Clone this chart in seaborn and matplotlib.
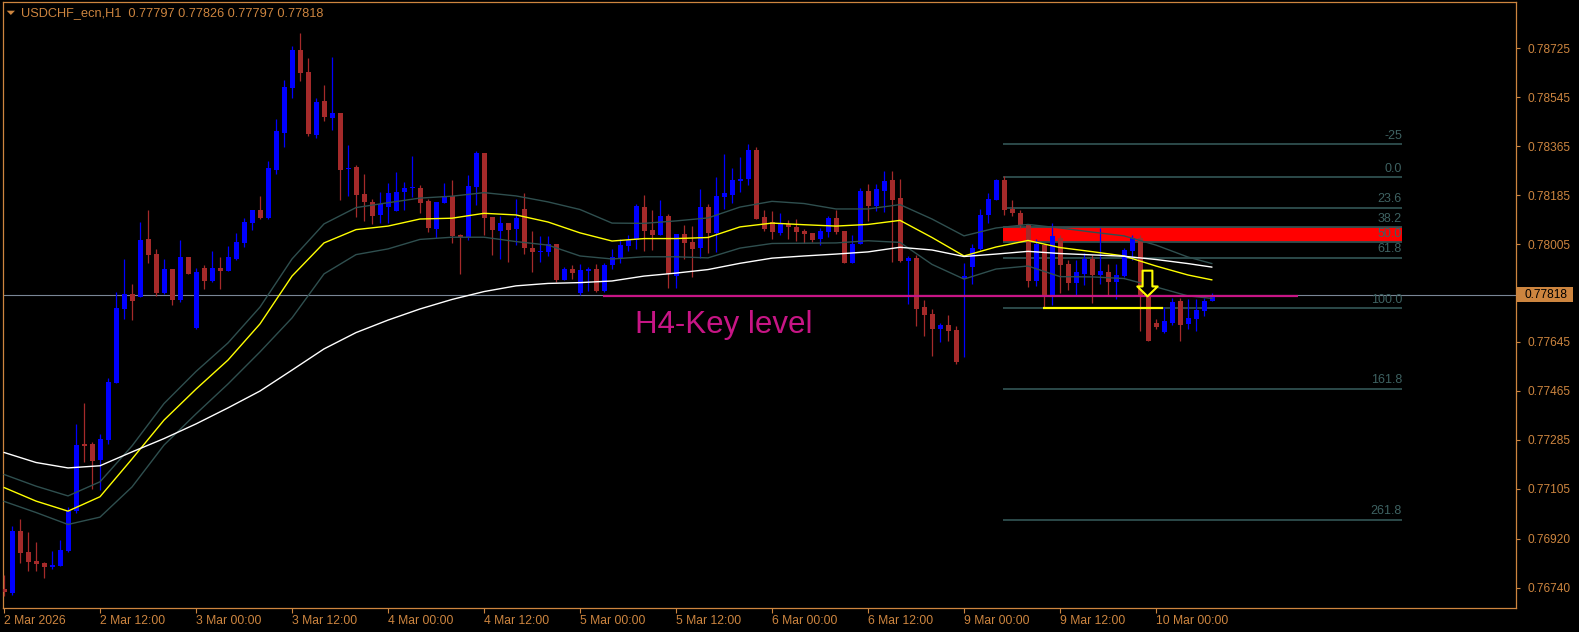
import numpy as np
import pandas as pd
import matplotlib
matplotlib.use("Agg")
import matplotlib.pyplot as plt
import matplotlib.transforms as mtransforms
from matplotlib.patches import Rectangle, Polygon
from matplotlib.path import Path
from matplotlib.markers import MarkerStyle
import seaborn as sns

# ---------------- data ----------------
symbol = "USDCHF_ecn,H1"
last_ohlc = [0.77797, 0.77826, 0.77797, 0.77818]
current_price = 0.77818

# H1 candles, prices in 1e-5 units (bar 0 = 2 Mar 00:00)
open_pts = [76735, 76721, 76949, 76872, 76839, 76831, 76816, 76820, 76875, 77022,
            77269, 77269, 77210, 77284, 77494, 77766, 77821, 77810, 78024, 77968,
            77825, 77913, 77799, 77957, 77696, 77917, 77869, 77917, 77906, 77950,
            78009, 78082, 78130, 78101, 78277, 78414, 78579, 78719, 78638, 78406,
            78531, 78469, 78487, 78281, 78288, 78189, 78160, 78112, 78141, 78126,
            78196, 78211, 78211, 78163, 78060, 78156, 78182, 78038, 78027, 78215,
            78340, 78104, 78053, 78082, 78060, 78134, 77990, 77976, 77976, 78005,
            77873, 77913, 77825, 77906, 77913, 77832, 77928, 77954, 77998, 78020,
            78141, 78057, 78038, 78108, 77887, 78042, 78012, 77990, 78141, 78046,
            78178, 78185, 78237, 78244, 78351, 78104, 78086, 78046, 78079, 78068,
            78053, 78046, 78024, 78049, 78101, 78053, 77935, 78005, 78200, 78145,
            78200, 78241, 78174, 77943, 77954, 77773, 77747, 77692, 77707, 77689,
            77876, 77920, 77987, 78112, 78167, 78241, 78134, 78119, 78075, 77869,
            78001, 77814, 78027, 77932, 77862, 77895, 77950, 77891, 77902, 77865,
            77887, 77979, 78027, 77814, 77714, 77681, 77714, 77795, 77711, 77729,
            77759, 77797]
high_pts = [76787, 76967, 76993, 76945, 76908, 76835, 76875, 76916, 77037, 77343,
            77420, 77276, 77306, 77512, 77828, 77950, 77858, 78086, 78130, 77987,
            77950, 77913, 78020, 77957, 77917, 77928, 77979, 77957, 77998, 78046,
            78101, 78130, 78182, 78310, 78465, 78609, 78734, 78782, 78690, 78542,
            78590, 78693, 78487, 78369, 78296, 78263, 78171, 78196, 78230, 78270,
            78233, 78329, 78222, 78171, 78160, 78230, 78241, 78042, 78259, 78347,
            78340, 78104, 78108, 78082, 78171, 78193, 78053, 78035, 78035, 78005,
            77920, 77928, 77932, 77920, 77932, 77935, 77987, 78024, 78038, 78152,
            78185, 78130, 78167, 78115, 78042, 78075, 78071, 78208, 78152, 78252,
            78336, 78285, 78325, 78373, 78362, 78130, 78126, 78119, 78093, 78097,
            78060, 78046, 78064, 78108, 78130, 78053, 78038, 78211, 78226, 78226,
            78274, 78274, 78244, 77961, 77965, 77799, 77766, 77714, 77744, 77703,
            77935, 78005, 78134, 78193, 78244, 78255, 78167, 78130, 78079, 78024,
            78005, 78082, 78038, 77946, 77946, 77972, 77965, 78064, 77932, 77932,
            77990, 78038, 78038, 77814, 77729, 77773, 77806, 77806, 77803, 77803,
            77806, 77826]
low_pts = [76710, 76713, 76831, 76802, 76802, 76776, 76809, 76820, 76872, 77015,
           77203, 77104, 77100, 77269, 77494, 77729, 77725, 77810, 77935, 77814,
           77821, 77781, 77792, 77895, 77692, 77840, 77865, 77840, 77906, 77946,
           77994, 78057, 78097, 78097, 78263, 78362, 78542, 78605, 78402, 78395,
           78458, 78425, 78167, 78182, 78104, 78090, 78079, 78082, 78082, 78126,
           78130, 78178, 78119, 78049, 78027, 78156, 78009, 77895, 78020, 78149,
           78038, 77965, 77950, 77939, 78001, 77968, 77902, 77939, 77961, 77865,
           77873, 77876, 77817, 77832, 77828, 77828, 77913, 77935, 77979, 77987,
           77979, 77983, 78038, 77843, 77843, 77950, 77884, 77954, 77972, 77976,
           78134, 78156, 78196, 78222, 78097, 78053, 78024, 78038, 78024, 78016,
           78009, 78012, 78001, 78031, 78042, 77935, 77935, 78005, 78090, 78126,
           78123, 77939, 77939, 77784, 77703, 77667, 77593, 77644, 77648, 77563,
           77589, 77858, 77983, 78082, 78167, 78112, 78108, 78060, 77847, 77851,
           77770, 77781, 77825, 77836, 77817, 77854, 77788, 77858, 77814, 77803,
           77884, 77946, 77685, 77648, 77692, 77678, 77707, 77648, 77692, 77685,
           77740, 77797]
close_pts = [76724, 76949, 76868, 76835, 76828, 76816, 76824, 76879, 77022, 77265,
             77262, 77206, 77287, 77497, 77770, 77821, 77795, 78020, 77965, 77825,
             77913, 77799, 77957, 77895, 77902, 77869, 77917, 77906, 77957, 78012,
             78086, 78130, 78101, 78285, 78421, 78583, 78719, 78634, 78410, 78528,
             78472, 78487, 78277, 78285, 78185, 78160, 78108, 78152, 78193, 78196,
             78211, 78215, 78156, 78064, 78160, 78182, 78035, 78031, 78219, 78340,
             78101, 78057, 78082, 78057, 78101, 77990, 77976, 77979, 78005, 77873,
             77913, 77898, 77909, 77913, 77832, 77928, 77957, 78001, 78020, 78145,
             78053, 78038, 78108, 77895, 78042, 78009, 77987, 78141, 78046, 78182,
             78193, 78241, 78244, 78351, 78097, 78060, 78049, 78082, 78068, 78049,
             78042, 78020, 78053, 78101, 78049, 77935, 78005, 78200, 78145, 78208,
             78237, 78167, 77943, 77954, 77766, 77744, 77692, 77707, 77685, 77571,
             77887, 77990, 78112, 78171, 78241, 78130, 78119, 78075, 77869, 78005,
             77814, 78035, 77928, 77862, 77902, 77950, 77891, 77906, 77865, 77891,
             77983, 78027, 77814, 77648, 77700, 77722, 77792, 77707, 77733, 77762,
             77795, 77818]

# moving averages / channel at these bars
ma_bars = [0, 4, 8, 12, 16, 20, 24, 28, 32, 36, 40, 44, 48, 52, 56, 60, 64, 68, 72, 76,
           80, 84, 88, 92, 96, 100, 104, 108, 112, 116, 120, 124, 128, 132, 136, 140,
           144, 148, 151]
ma_white_pts = [77238, 77201, 77181, 77189, 77240, 77289, 77343, 77402, 77464, 77541,
                77619, 77679, 77725, 77766, 77801, 77830, 77851, 77860, 77863, 77869,
                77887, 77898, 77911, 77934, 77953, 77961, 77968, 77976, 77993, 77983,
                77959, 77968, 77978, 77970, 77965, 77960, 77948, 77933, 77920]
ma_yellow_pts = [77109, 77059, 77022, 77075, 77214, 77357, 77471, 77578, 77711, 77887,
                 78009, 78058, 78071, 78097, 78100, 78118, 78112, 78086, 78046, 78016,
                 78025, 78025, 78029, 78068, 78082, 78076, 78071, 78077, 78092, 78029,
                 77961, 77994, 78018, 77992, 77977, 77961, 77924, 77891, 77873]
band_upper_pts = [77157, 77114, 77078, 77130, 77262, 77418, 77536, 77641, 77773, 77950,
                  78079, 78139, 78157, 78174, 78181, 78194, 78182, 78160, 78132, 78082,
                  78081, 78090, 78101, 78141, 78162, 78154, 78134, 78134, 78150, 78097,
                  78035, 78064, 78077, 78064, 78049, 78035, 78001, 77957, 77933]
band_lower_pts = [77058, 77017, 76973, 77000, 77111, 77265, 77380, 77490, 77608, 77733,
                  77895, 77966, 77987, 78022, 78030, 78030, 78014, 78001, 77961, 77950,
                  77958, 77958, 77954, 77990, 78007, 78008, 78009, 78017, 78011, 77930,
                  77876, 77913, 77924, 77885, 77884, 77878, 77847, 77814, 77805]

time_labels = ["2 Mar 2026", "2 Mar 12:00", "3 Mar 00:00", "3 Mar 12:00", "4 Mar 00:00",
               "4 Mar 12:00", "5 Mar 00:00", "5 Mar 12:00", "6 Mar 00:00", "6 Mar 12:00",
               "9 Mar 00:00", "9 Mar 12:00", "10 Mar 00:00"]
time_label_bars = [0, 12, 24, 36, 48, 60, 72, 84, 96, 108, 120, 132, 144]
price_ticks = [0.78725, 0.78545, 0.78365, 0.78185, 0.78005, 0.77645, 0.77465,
               0.77285, 0.77105, 0.76920, 0.76740]

# drawn objects
fib_high = 0.78253
fib_low = 0.77771
fib_levels = [-25, 0, 23.6, 38.2, 50, 61.8, 100, 161.8, 261.8]
fib_labels = ["-25", "0.0", "23.6", "38.2", "50.0", "61.8", "100.0", "161.8", "261.8"]
fib_start_bar, fib_end_bar = 124.9, 174.75
zone_top, zone_bottom = 0.78066, 0.78012
key_level = 0.77815
key_start_bar, key_end_bar = 74.9, 161.75
key_text = "H4-Key level"
key_text_bar, key_text_price = 78.9, 0.77679
low_line_start, low_line_end = 129.9, 144.9
arrow_bar, arrow_price = 142.9, 0.77860

# ---------------- prep ----------------
opens = np.array(open_pts) / 1e5
highs = np.array(high_pts) / 1e5
lows = np.array(low_pts) / 1e5
closes = np.array(close_pts) / 1e5
opens[-1], highs[-1], lows[-1], closes[-1] = last_ohlc
bars = np.arange(len(opens))

ma_df = pd.DataFrame({
    "bar": ma_bars,
    "white": np.array(ma_white_pts) / 1e5,
    "yellow": np.array(ma_yellow_pts) / 1e5,
    "upper": np.array(band_upper_pts) / 1e5,
    "lower": np.array(band_lower_pts) / 1e5,
})

# ---------------- style ----------------
sns.set_theme(style="dark", rc={"axes.facecolor": "black", "figure.facecolor": "black"})
plt.rcParams["font.family"] = ["Liberation Sans", "DejaVu Sans"]

ORANGE = "#CD853F"
BULL = "#0000FF"
BEAR = "#A52A2A"
SLATE = "#2F4F4F"
MAGENTA = "#C71585"

W, H = 1579, 632
fig = plt.figure(figsize=(W / 100, H / 100), dpi=100, facecolor="black")
ax_l, ax_r, ax_t, ax_b = 3, 1515.5, 2, 607.8
ax = fig.add_axes([ax_l / W, 1 - ax_b / H, (ax_r - ax_l) / W, (ax_b - ax_t) / H])
ax.set_facecolor("black")
ax.grid(False)

xmin = -0.125
xmax = xmin + (ax_r - ax_l) / 8.0
ax.set_xlim(xmin, xmax)
ax.set_ylim(0.766663, 0.788956)
px = (0.788956 - 0.766663) / (ax_b - ax_t)  # price per pixel

# current price line
ax.axhline(current_price, color="#7A8696", lw=0.8, zorder=1)

# zone rectangle
ax.add_patch(Rectangle((fib_start_bar, zone_bottom), fib_end_bar - fib_start_bar,
                       zone_top - zone_bottom, facecolor="#FF0000", edgecolor="none", zorder=1.5))

# fibonacci
rng = fib_high - fib_low
for lv, lab in zip(fib_levels, fib_labels):
    p = fib_high - lv / 100.0 * rng
    ax.plot([fib_start_bar, fib_end_bar], [p, p], color=SLATE, lw=1.3, zorder=2,
            solid_capstyle="butt")
    ax.annotate(lab, xy=(fib_end_bar, p), xytext=(0, 1.5), textcoords="offset points",
                ha="right", va="bottom", color="#3E6262", fontsize=9, zorder=2)

# candles
bull = closes >= opens
cols = np.where(bull, BULL, BEAR)
body_lo = np.minimum(opens, closes)
body_h = np.maximum(np.abs(closes - opens), px * 1.2)
ax.vlines(bars, lows, highs, colors=cols, lw=0.9, zorder=3)
ax.bar(bars, body_h, bottom=body_lo, width=0.625, color=cols, linewidth=0, zorder=3.1)

# moving averages
sns.lineplot(data=ma_df, x="bar", y="upper", ax=ax, color=SLATE, lw=1.0, zorder=4)
sns.lineplot(data=ma_df, x="bar", y="lower", ax=ax, color=SLATE, lw=1.0, zorder=4)
sns.lineplot(data=ma_df, x="bar", y="white", ax=ax, color="white", lw=1.0, zorder=4.2)
sns.lineplot(data=ma_df, x="bar", y="yellow", ax=ax, color="#FFFF00", lw=1.0, zorder=4.1)

# key level
ax.plot([key_start_bar, key_end_bar], [key_level, key_level], color=MAGENTA, lw=1.6,
        zorder=5, solid_capstyle="butt")
ax.text(key_text_bar, key_text_price, key_text, color=MAGENTA, fontsize=22.5,
        va="baseline", ha="left", zorder=5)

# yellow low line
ax.plot([low_line_start, low_line_end], [fib_low, fib_low], color="#FFFF00", lw=1.6,
        zorder=5, solid_capstyle="butt")

# down arrow marker
arrow_path = Path([(-0.19, 0.5), (0.19, 0.5), (0.19, -0.115), (0.396, -0.115),
                   (0.0, -0.5), (-0.396, -0.115), (-0.19, -0.115), (-0.19, 0.5)],
                  closed=True)
ax.plot([arrow_bar], [arrow_price], marker=MarkerStyle(arrow_path), markersize=18.5,
        markerfacecolor="black", markeredgecolor="#FFFF00", markeredgewidth=1.5,
        linestyle="none", zorder=6)

# axes styling
for s in ax.spines.values():
    s.set_color(ORANGE)
    s.set_linewidth(0.9)
    s.set_visible(True)

ax.set_xticks(time_label_bars)
ax.set_xticklabels(time_labels)
for t in ax.get_xticklabels():
    t.set_ha("left")
ax.tick_params(axis="x", bottom=True, length=3.5, width=0.8, colors=ORANGE, pad=2,
               labelsize=8.7, direction="out")
ax.yaxis.tick_right()
ax.set_yticks(price_ticks)
ax.set_yticklabels([f"{v:.5f}" for v in price_ticks])
ax.tick_params(axis="y", right=True, left=False, labelright=True, labelleft=False,
               length=3, width=0.8, colors=ORANGE, pad=6, labelsize=8.6, direction="out")
ax.set_xlabel("")
ax.set_ylabel("")

# current price label box
trans = mtransforms.blended_transform_factory(ax.transAxes, ax.transData)
axw = ax_r - ax_l
ax.add_patch(Rectangle((1.0 + 1.2 / axw, current_price - 7.5 * px), 56 / axw, 15 * px,
                       transform=trans, facecolor=ORANGE, edgecolor="none",
                       clip_on=False, zorder=7))
ax.text(1.0 + 8.5 / axw, current_price, f"{current_price:.5f}", transform=trans,
        color="black", fontsize=8.6, va="center", ha="left", clip_on=False, zorder=8)

# header
header = f"{symbol}  " + " ".join(f"{v:.5f}" for v in last_ohlc)
fig.text(21 / W, 1 - 12.7 / H, header, color=ORANGE, fontsize=9.2, va="center", ha="left")
fig.patches.append(Polygon([(6.7 / W, 1 - 10.7 / H), (15 / W, 1 - 10.7 / H),
                            (10.85 / W, 1 - 15 / H)], closed=True, transform=fig.transFigure,
                           facecolor=ORANGE, edgecolor="none", figure=fig))

fig.savefig("out.png", dpi=100, facecolor="black")
